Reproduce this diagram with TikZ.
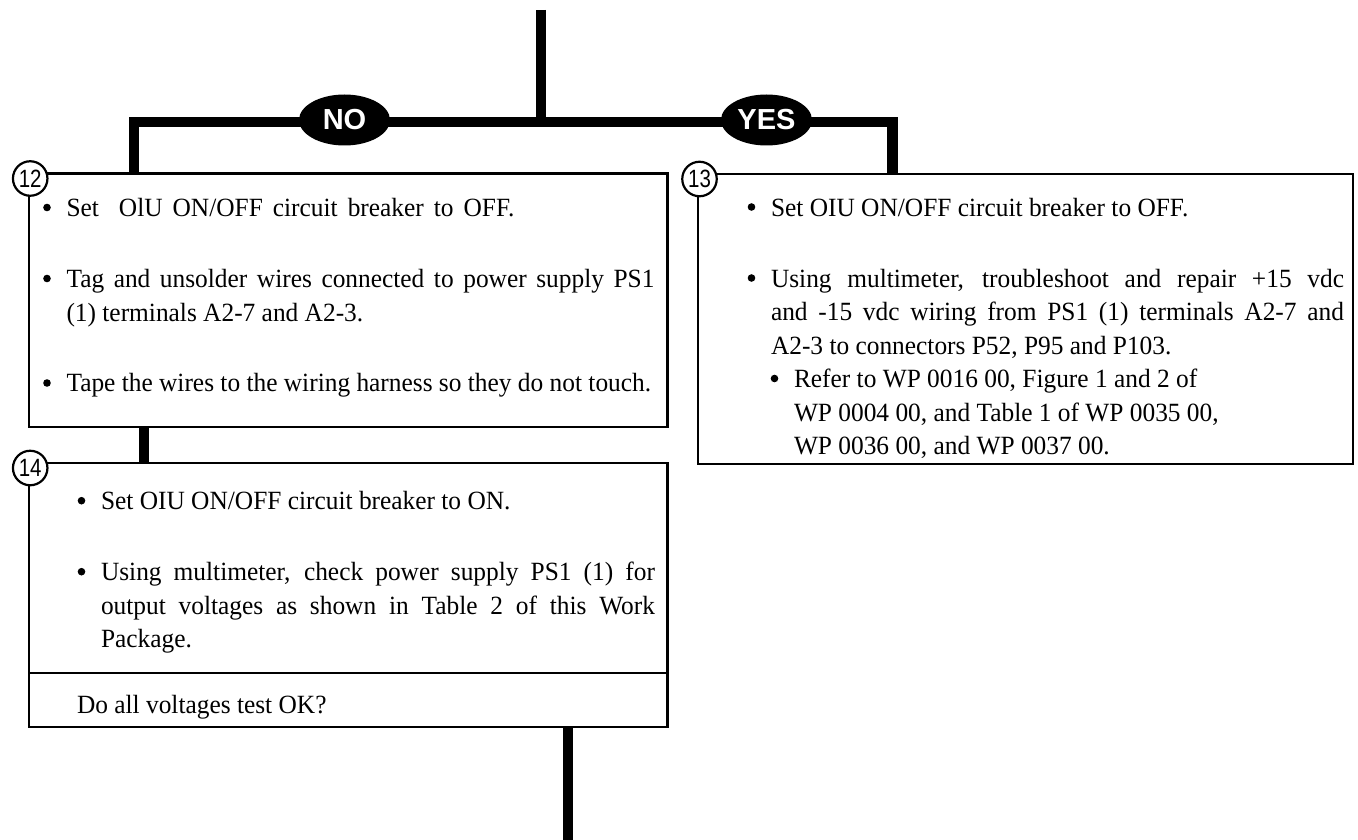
\documentclass[tikz,border=0pt]{standalone}
\usepackage{fontspec}
\setmainfont[FakeStretch=0.965]{Liberation Serif}
\newfontfamily\lblfont{Liberation Sans}
\newfontfamily\numfont[FakeStretch=0.82]{Liberation Sans}
\usetikzlibrary{shapes.geometric,calc}
\setlength{\parindent}{0pt}
\tikzset{
  box/.style={draw, line width=2.4pt, rectangle, inner sep=0pt, outer sep=0pt, anchor=north west, fill=white},
  flow/.style={line width=10.5pt},
  oval/.style={ellipse, fill=black, text=white, minimum width=91pt, minimum height=51pt, inner sep=0pt,
    font=\lblfont\bfseries\fontsize{29}{29}\selectfont},
  num/.style={circle, draw, line width=2.2pt, fill=white, minimum size=34.5pt, inner sep=0pt,
    font=\numfont\fontsize{25}{25}\selectfont},
  txt/.style={anchor=north west, inner sep=0pt, outer sep=0pt, font=\fontsize{26.3}{33.5}\selectfont,
    execute at begin node={\tolerance=9999\hyphenpenalty=10000\exhyphenpenalty=10000}},
}
\newcommand\bdot{\tikz[baseline=0pt]\fill[black] (0pt,9pt) circle (3.8pt);}
\newcommand\bul{\noindent\strut\llap{\bdot\hspace{15.7pt}}}
\newcommand\gap{\par\vskip37.5pt}
\begin{document}
\begin{tikzpicture}[x=1pt,y=-1pt]
\useasboundingbox (0,0) rectangle (1358,840);

% named points of the connectors
\coordinate (start) at (541,10);
\coordinate (fork) at (541,122);
\coordinate (nox) at (134,0);
\coordinate (yesx) at (892.5,0);
\coordinate (linkx) at (144,0);
\coordinate (outx) at (568,0);
\coordinate (end) at (568,840);

% boxes
\node[box, minimum width=638.8pt, minimum height=253.5pt] (b12) at (28.7,173.5) {};
\node[box, minimum width=655pt, minimum height=290pt] (b13) at (698,174) {};
\node[box, minimum width=638.8pt, minimum height=210pt] (b14) at (28.7,463) {};
\node[box, minimum width=638.8pt, minimum height=54pt] (q14) at (28.7,673) {};

% connectors
\draw[flow] (start) -- (fork);
\draw[flow] (b12.north -| nox) |- (fork) -| (b13.north -| yesx);
\draw[flow] (b12.south -| linkx) -- (b14.north -| linkx);
\draw[flow] (q14.south -| outx) -- (end);

% decision labels
\node[oval] (no) at (344.5,120) {NO};
\node[oval] (yes) at (766.5,120) {YES};

% step numbers
\node[num] (c12) at ($(b12.north west)+(1.5,5)$) {12};
\node[num] (c13) at ($(b13.north west)+(1.5,5)$) {13};
\node[num] (c14) at ($(b14.north west)+(1.5,5)$) {14};

% texts
\node[txt, text width=588pt, align=justify] (t12) at (66.5,193.05) {%
\bul\makebox[448pt][s]{Set\ \ OlU ON/OFF circuit breaker to OFF.}\gap
\bul Tag and unsolder wires connected to power supply PS1\linebreak (1) terminals A2-7 and A2-3.\gap
\bul Tape the wires to the wiring harness so they do not touch.};

\node[txt, text width=573pt, align=justify] (t13) at (771,192.55) {%
\bul Set OIU ON/OFF circuit breaker to OFF.\gap
\bul Using multimeter, troubleshoot and repair +15 vdc\linebreak and -15 vdc wiring from PS1 (1) terminals A2-7 and\linebreak A2-3 to connectors P52, P95 and P103.};

\node[txt, align=left] (t13s) at (794,364.05) {%
\strut\llap{\bdot\hspace{15.7pt}}Refer to WP 0016 00, Figure 1 and 2 of\\
WP 0004 00, and Table 1 of WP 0035 00,\\
WP 0036 00, and WP 0037 00.};

\node[txt, text width=554pt, align=justify] (t14) at (101,486.25) {%
\bul Set OIU ON/OFF circuit breaker to ON.\gap
\bul Using multimeter, check power supply PS1 (1) for\linebreak output voltages as shown in Table 2 of this Work\linebreak Package.};

\node[txt, align=left] (t14q) at (77,690.5) {\strut Do all voltages test OK?};
\end{tikzpicture}
\end{document}
